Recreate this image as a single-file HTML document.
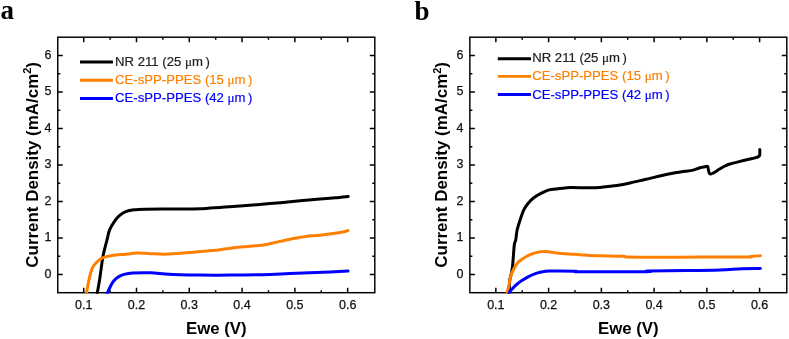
<!DOCTYPE html>
<html><head><meta charset="utf-8"><style>
html,body{margin:0;padding:0;background:#fff;}
svg{display:block;will-change:transform;}
text{font-family:'Liberation Sans', sans-serif;}
</style></head><body>
<svg width="789" height="339" viewBox="0 0 789 339">

<defs><clipPath id="clip0"><rect x="57.05" y="36.5" width="318.45" height="256.9"/></clipPath></defs>
<rect x="57.75" y="37.2" width="317.05" height="255.50" fill="none" stroke="#000" stroke-width="1.45"/>
<path d="M83.70,292.7v-5M83.70,37.2v5M110.10,292.7v-2.5M110.10,37.2v2.5M136.49,292.7v-5M136.49,37.2v5M162.88,292.7v-2.5M162.88,37.2v2.5M189.28,292.7v-5M189.28,37.2v5M215.68,292.7v-2.5M215.68,37.2v2.5M242.07,292.7v-5M242.07,37.2v5M268.46,292.7v-2.5M268.46,37.2v2.5M294.86,292.7v-5M294.86,37.2v5M321.26,292.7v-2.5M321.26,37.2v2.5M347.65,292.7v-5M347.65,37.2v5M57.75,274.60h5M374.8,274.60h-5M57.75,256.34h2.5M374.8,256.34h-2.5M57.75,238.08h5M374.8,238.08h-5M57.75,219.81h2.5M374.8,219.81h-2.5M57.75,201.55h5M374.8,201.55h-5M57.75,183.29h2.5M374.8,183.29h-2.5M57.75,165.03h5M374.8,165.03h-5M57.75,146.76h2.5M374.8,146.76h-2.5M57.75,128.50h5M374.8,128.50h-5M57.75,110.24h2.5M374.8,110.24h-2.5M57.75,91.98h5M374.8,91.98h-5M57.75,73.71h2.5M374.8,73.71h-2.5M57.75,55.45h5M374.8,55.45h-5" stroke="#000" stroke-width="1.5" fill="none"/>
<path d="M96.60,297.00 C96.73,296.17 96.87,295.17 97.40,292.00 C97.93,288.83 98.93,283.67 99.80,278.00 C100.67,272.33 101.77,263.00 102.60,258.00 C103.43,253.00 104.03,251.20 104.80,248.00 C105.57,244.80 106.40,241.88 107.20,238.80 C108.00,235.72 108.38,232.47 109.60,229.50 C110.82,226.53 112.87,223.37 114.50,221.00 C116.13,218.63 117.52,216.93 119.40,215.30 C121.28,213.67 123.37,212.18 125.80,211.20 C128.23,210.22 130.80,209.80 134.00,209.40 C137.20,209.00 139.00,208.92 145.00,208.80 C151.00,208.68 163.33,208.73 170.00,208.70 C176.67,208.67 180.00,208.65 185.00,208.60 C190.00,208.55 195.83,208.55 200.00,208.40 C204.17,208.25 205.83,207.98 210.00,207.70 C214.17,207.42 220.00,207.05 225.00,206.70 C230.00,206.35 232.50,206.18 240.00,205.60 C247.50,205.02 260.00,204.07 270.00,203.20 C280.00,202.33 291.67,201.17 300.00,200.40 C308.33,199.63 314.17,199.10 320.00,198.60 C325.83,198.10 330.30,197.82 335.00,197.40 C339.70,196.98 346.00,196.32 348.20,196.10" fill="none" stroke="#000000" stroke-width="3.0" stroke-linejoin="round" stroke-linecap="round" transform="translate(0,0.4)" clip-path="url(#clip0)"/>
<path d="M85.60,297.00 C85.77,296.17 85.98,295.17 86.60,292.00 C87.22,288.83 88.33,282.08 89.30,278.00 C90.27,273.92 91.22,270.13 92.40,267.50 C93.58,264.87 95.15,263.60 96.40,262.20 C97.65,260.80 98.57,260.00 99.90,259.10 C101.23,258.20 102.77,257.40 104.40,256.80 C106.03,256.20 107.50,255.90 109.70,255.50 C111.90,255.10 115.22,254.65 117.60,254.40 C119.98,254.15 120.77,254.30 124.00,254.00 C127.23,253.70 132.67,252.72 137.00,252.60 C141.33,252.48 145.33,253.10 150.00,253.30 C154.67,253.50 160.00,253.88 165.00,253.80 C170.00,253.72 174.17,253.23 180.00,252.80 C185.83,252.37 193.33,251.78 200.00,251.20 C206.67,250.62 213.33,250.05 220.00,249.30 C226.67,248.55 234.17,247.35 240.00,246.70 C245.83,246.05 250.83,245.78 255.00,245.40 C259.17,245.02 260.83,245.13 265.00,244.40 C269.17,243.67 275.83,241.93 280.00,241.00 C284.17,240.07 287.00,239.40 290.00,238.80 C293.00,238.20 295.33,237.87 298.00,237.40 C300.67,236.93 302.33,236.43 306.00,236.00 C309.67,235.57 315.17,235.32 320.00,234.80 C324.83,234.28 330.83,233.52 335.00,232.90 C339.17,232.28 342.83,231.57 345.00,231.10 C347.17,230.63 347.50,230.27 348.00,230.10" fill="none" stroke="#ff8000" stroke-width="3.0" stroke-linejoin="round" stroke-linecap="round" transform="translate(0,0.4)" clip-path="url(#clip0)"/>
<path d="M105.50,297.00 C105.85,296.17 106.72,293.95 107.60,292.00 C108.48,290.05 109.75,287.25 110.80,285.30 C111.85,283.35 112.63,281.77 113.90,280.30 C115.17,278.83 116.70,277.55 118.40,276.50 C120.10,275.45 121.67,274.65 124.10,274.00 C126.53,273.35 128.57,272.87 133.00,272.60 C137.43,272.33 145.37,272.23 150.70,272.40 C156.03,272.57 160.12,273.27 165.00,273.60 C169.88,273.93 174.17,274.22 180.00,274.40 C185.83,274.58 191.67,274.65 200.00,274.70 C208.33,274.75 218.33,274.80 230.00,274.70 C241.67,274.60 260.00,274.38 270.00,274.10 C280.00,273.82 280.00,273.43 290.00,273.00 C300.00,272.57 320.33,271.88 330.00,271.50 C339.67,271.12 345.00,270.83 348.00,270.70" fill="none" stroke="#0000ff" stroke-width="3.0" stroke-linejoin="round" stroke-linecap="round" transform="translate(0,0.4)" clip-path="url(#clip0)"/>
<text x="83.70" y="308.6" font-size="12.5" text-anchor="middle" fill="#111" stroke="#111" stroke-width="0.25">0.1</text>
<text x="136.49" y="308.6" font-size="12.5" text-anchor="middle" fill="#111" stroke="#111" stroke-width="0.25">0.2</text>
<text x="189.28" y="308.6" font-size="12.5" text-anchor="middle" fill="#111" stroke="#111" stroke-width="0.25">0.3</text>
<text x="242.07" y="308.6" font-size="12.5" text-anchor="middle" fill="#111" stroke="#111" stroke-width="0.25">0.4</text>
<text x="294.86" y="308.6" font-size="12.5" text-anchor="middle" fill="#111" stroke="#111" stroke-width="0.25">0.5</text>
<text x="347.65" y="308.6" font-size="12.5" text-anchor="middle" fill="#111" stroke="#111" stroke-width="0.25">0.6</text>
<text x="51.45" y="277.90" font-size="12.5" text-anchor="end" fill="#111" stroke="#111" stroke-width="0.25">0</text>
<text x="51.45" y="241.38" font-size="12.5" text-anchor="end" fill="#111" stroke="#111" stroke-width="0.25">1</text>
<text x="51.45" y="204.85" font-size="12.5" text-anchor="end" fill="#111" stroke="#111" stroke-width="0.25">2</text>
<text x="51.45" y="168.33" font-size="12.5" text-anchor="end" fill="#111" stroke="#111" stroke-width="0.25">3</text>
<text x="51.45" y="131.80" font-size="12.5" text-anchor="end" fill="#111" stroke="#111" stroke-width="0.25">4</text>
<text x="51.45" y="95.28" font-size="12.5" text-anchor="end" fill="#111" stroke="#111" stroke-width="0.25">5</text>
<text x="51.45" y="58.75" font-size="12.5" text-anchor="end" fill="#111" stroke="#111" stroke-width="0.25">6</text>
<text x="216.28" y="333.5" font-size="17.3" font-weight="bold" text-anchor="middle" textLength="60.7" lengthAdjust="spacingAndGlyphs">Ewe (V)</text>
<text transform="translate(37.8,164.85) rotate(-90)" x="0" y="0" font-size="16.95" font-weight="bold" text-anchor="middle">Current Density (mA/cm<tspan font-size="11" dy="-6.5">2</tspan><tspan dy="6.5">)</tspan></text>
<text x="0.6" y="19.2" font-size="27" font-weight="bold" style="font-family:'Liberation Serif',serif">a</text>
<line x1="80.0" y1="62.00" x2="112.9" y2="62.00" stroke="#000000" stroke-width="2.9" stroke-linecap="butt"/>
<text x="115.10" y="65.75" font-size="13.15" fill="#222" stroke="#222" stroke-width="0.2">NR 211 (25 <tspan style="font-family:'Liberation Serif'">&#956;</tspan>m<tspan dx="2.5">)</tspan></text>
<line x1="80.0" y1="80.20" x2="112.9" y2="80.20" stroke="#ff8000" stroke-width="2.9" stroke-linecap="butt"/>
<text x="115.10" y="83.80" font-size="13.15" fill="#ff8000" stroke="#ff8000" stroke-width="0.2">CE-sPP-PPES (15 <tspan style="font-family:'Liberation Serif'">&#956;</tspan>m<tspan dx="2.5">)</tspan></text>
<line x1="80.0" y1="98.50" x2="112.9" y2="98.50" stroke="#0000ff" stroke-width="2.9" stroke-linecap="butt"/>
<text x="115.10" y="102.15" font-size="13.15" fill="#0000ff" stroke="#0000ff" stroke-width="0.2">CE-sPP-PPES (42 <tspan style="font-family:'Liberation Serif'">&#956;</tspan>m<tspan dx="2.5">)</tspan></text>
<defs><clipPath id="clip1"><rect x="469.15000000000003" y="36.5" width="318.3499999999999" height="256.9"/></clipPath></defs>
<rect x="469.85" y="37.2" width="316.95" height="255.50" fill="none" stroke="#000" stroke-width="1.45"/>
<path d="M495.85,292.7v-5M495.85,37.2v5M522.23,292.7v-2.5M522.23,37.2v2.5M548.60,292.7v-5M548.60,37.2v5M574.98,292.7v-2.5M574.98,37.2v2.5M601.35,292.7v-5M601.35,37.2v5M627.73,292.7v-2.5M627.73,37.2v2.5M654.10,292.7v-5M654.10,37.2v5M680.48,292.7v-2.5M680.48,37.2v2.5M706.85,292.7v-5M706.85,37.2v5M733.23,292.7v-2.5M733.23,37.2v2.5M759.60,292.7v-5M759.60,37.2v5M469.85,274.60h5M786.8,274.60h-5M469.85,256.34h2.5M786.8,256.34h-2.5M469.85,238.08h5M786.8,238.08h-5M469.85,219.81h2.5M786.8,219.81h-2.5M469.85,201.55h5M786.8,201.55h-5M469.85,183.29h2.5M786.8,183.29h-2.5M469.85,165.03h5M786.8,165.03h-5M469.85,146.76h2.5M786.8,146.76h-2.5M469.85,128.50h5M786.8,128.50h-5M469.85,110.24h2.5M786.8,110.24h-2.5M469.85,91.98h5M786.8,91.98h-5M469.85,73.71h2.5M786.8,73.71h-2.5M469.85,55.45h5M786.8,55.45h-5" stroke="#000" stroke-width="1.5" fill="none"/>
<path d="M508.50,297.00 C508.62,296.17 509.00,294.73 509.20,292.00 C509.40,289.27 509.28,283.95 509.70,280.60 C510.12,277.25 511.20,274.60 511.70,271.90 C512.20,269.20 512.27,268.88 512.70,264.40 C513.13,259.92 513.80,249.07 514.30,245.00 C514.80,240.93 515.22,242.55 515.70,240.00 C516.18,237.45 516.40,233.25 517.20,229.70 C518.00,226.15 519.40,222.02 520.50,218.70 C521.60,215.38 522.52,212.38 523.80,209.80 C525.08,207.22 526.53,205.22 528.20,203.20 C529.87,201.18 531.58,199.37 533.80,197.70 C536.02,196.03 538.93,194.50 541.50,193.20 C544.07,191.90 545.70,190.73 549.20,189.90 C552.70,189.07 559.03,188.58 562.50,188.20 C565.97,187.82 565.42,187.67 570.00,187.60 C574.58,187.53 585.00,187.83 590.00,187.80 C595.00,187.77 596.67,187.65 600.00,187.40 C603.33,187.15 606.67,186.70 610.00,186.30 C613.33,185.90 616.67,185.55 620.00,185.00 C623.33,184.45 626.67,183.73 630.00,183.00 C633.33,182.27 636.67,181.37 640.00,180.60 C643.33,179.83 646.67,179.17 650.00,178.40 C653.33,177.63 655.83,176.95 660.00,176.00 C664.17,175.05 670.83,173.50 675.00,172.70 C679.17,171.90 682.17,171.58 685.00,171.20 C687.83,170.82 689.50,170.97 692.00,170.40 C694.50,169.83 697.83,168.40 700.00,167.80 C702.17,167.20 703.73,167.05 705.00,166.80 C706.27,166.55 707.03,165.77 707.60,166.30 C708.17,166.83 708.10,168.83 708.40,170.00 C708.70,171.17 708.97,172.65 709.40,173.30 C709.83,173.95 710.40,173.92 711.00,173.90 C711.60,173.88 712.33,173.52 713.00,173.20 C713.67,172.88 713.83,172.73 715.00,172.00 C716.17,171.27 718.33,169.80 720.00,168.80 C721.67,167.80 723.33,166.80 725.00,166.00 C726.67,165.20 727.50,164.77 730.00,164.00 C732.50,163.23 736.67,162.23 740.00,161.40 C743.33,160.57 747.50,159.58 750.00,159.00 C752.50,158.42 753.58,158.30 755.00,157.90 C756.42,157.50 757.72,157.05 758.50,156.60 C759.28,156.15 759.48,155.80 759.70,155.20 C759.92,154.60 759.78,153.93 759.80,153.00 C759.82,152.07 759.80,150.17 759.80,149.60" fill="none" stroke="#000000" stroke-width="3.0" stroke-linejoin="round" stroke-linecap="round" transform="translate(0,0.0)" clip-path="url(#clip1)"/>
<path d="M506.80,297.00 C506.88,296.25 506.88,294.80 507.30,292.50 C507.72,290.20 508.75,285.85 509.30,283.20 C509.85,280.55 509.93,278.80 510.60,276.60 C511.27,274.40 512.18,272.22 513.30,270.00 C514.42,267.78 515.87,265.08 517.30,263.30 C518.73,261.52 520.25,260.52 521.90,259.30 C523.55,258.08 525.52,256.88 527.20,256.00 C528.88,255.12 530.37,254.60 532.00,254.00 C533.63,253.40 535.03,252.82 537.00,252.40 C538.97,251.98 541.63,251.57 543.80,251.50 C545.97,251.43 548.13,251.80 550.00,252.00 C551.87,252.20 552.50,252.40 555.00,252.70 C557.50,253.00 560.83,253.47 565.00,253.80 C569.17,254.13 575.83,254.43 580.00,254.70 C584.17,254.97 586.67,255.22 590.00,255.40 C593.33,255.58 594.50,255.67 600.00,255.80 C605.50,255.93 618.50,255.98 623.00,256.20 C627.50,256.42 622.50,256.93 627.00,257.10 C631.50,257.27 637.83,257.20 650.00,257.20 C662.17,257.20 683.83,257.13 700.00,257.10 C716.17,257.07 738.33,257.15 747.00,257.00 C755.67,256.85 749.78,256.40 752.00,256.20 C754.22,256.00 758.92,255.87 760.30,255.80" fill="none" stroke="#ff8000" stroke-width="3.0" stroke-linejoin="round" stroke-linecap="round" transform="translate(0,0.0)" clip-path="url(#clip1)"/>
<path d="M508.30,297.00 C508.47,296.25 508.58,293.92 509.30,292.50 C510.02,291.08 511.38,289.83 512.60,288.50 C513.82,287.17 515.05,285.83 516.60,284.50 C518.15,283.17 519.90,281.82 521.90,280.50 C523.90,279.18 526.57,277.67 528.60,276.60 C530.63,275.53 532.20,274.82 534.10,274.10 C536.00,273.38 538.10,272.77 540.00,272.30 C541.90,271.83 543.83,271.50 545.50,271.30 C547.17,271.10 545.08,271.12 550.00,271.10 C554.92,271.08 570.00,271.08 575.00,271.20 C580.00,271.32 568.08,271.72 580.00,271.80 C591.92,271.88 635.17,271.85 646.50,271.70 C657.83,271.55 641.42,271.08 648.00,270.90 C654.58,270.72 674.00,270.75 686.00,270.60 C698.00,270.45 710.67,270.30 720.00,270.00 C729.33,269.70 735.27,269.03 742.00,268.80 C748.73,268.57 757.33,268.63 760.40,268.60" fill="none" stroke="#0000ff" stroke-width="3.0" stroke-linejoin="round" stroke-linecap="round" transform="translate(0,0.0)" clip-path="url(#clip1)"/>
<text x="495.85" y="308.6" font-size="12.5" text-anchor="middle" fill="#111" stroke="#111" stroke-width="0.25">0.1</text>
<text x="548.60" y="308.6" font-size="12.5" text-anchor="middle" fill="#111" stroke="#111" stroke-width="0.25">0.2</text>
<text x="601.35" y="308.6" font-size="12.5" text-anchor="middle" fill="#111" stroke="#111" stroke-width="0.25">0.3</text>
<text x="654.10" y="308.6" font-size="12.5" text-anchor="middle" fill="#111" stroke="#111" stroke-width="0.25">0.4</text>
<text x="706.85" y="308.6" font-size="12.5" text-anchor="middle" fill="#111" stroke="#111" stroke-width="0.25">0.5</text>
<text x="759.60" y="308.6" font-size="12.5" text-anchor="middle" fill="#111" stroke="#111" stroke-width="0.25">0.6</text>
<text x="463.55" y="277.90" font-size="12.5" text-anchor="end" fill="#111" stroke="#111" stroke-width="0.25">0</text>
<text x="463.55" y="241.38" font-size="12.5" text-anchor="end" fill="#111" stroke="#111" stroke-width="0.25">1</text>
<text x="463.55" y="204.85" font-size="12.5" text-anchor="end" fill="#111" stroke="#111" stroke-width="0.25">2</text>
<text x="463.55" y="168.33" font-size="12.5" text-anchor="end" fill="#111" stroke="#111" stroke-width="0.25">3</text>
<text x="463.55" y="131.80" font-size="12.5" text-anchor="end" fill="#111" stroke="#111" stroke-width="0.25">4</text>
<text x="463.55" y="95.28" font-size="12.5" text-anchor="end" fill="#111" stroke="#111" stroke-width="0.25">5</text>
<text x="463.55" y="58.75" font-size="12.5" text-anchor="end" fill="#111" stroke="#111" stroke-width="0.25">6</text>
<text x="628.33" y="333.5" font-size="17.3" font-weight="bold" text-anchor="middle" textLength="60.7" lengthAdjust="spacingAndGlyphs">Ewe (V)</text>
<text transform="translate(447.4,164.85) rotate(-90)" x="0" y="0" font-size="16.95" font-weight="bold" text-anchor="middle">Current Density (mA/cm<tspan font-size="11" dy="-6.5">2</tspan><tspan dy="6.5">)</tspan></text>
<text x="414.5" y="19.5" font-size="27" font-weight="bold" style="font-family:'Liberation Serif',serif">b</text>
<line x1="497.8" y1="58.70" x2="531.0" y2="58.70" stroke="#000000" stroke-width="2.9" stroke-linecap="butt"/>
<text x="532.20" y="62.00" font-size="13.15" fill="#222" stroke="#222" stroke-width="0.2">NR 211 (25 <tspan style="font-family:'Liberation Serif'">&#956;</tspan>m<tspan dx="2.5">)</tspan></text>
<line x1="497.8" y1="76.40" x2="531.0" y2="76.40" stroke="#ff8000" stroke-width="2.9" stroke-linecap="butt"/>
<text x="532.20" y="80.15" font-size="13.15" fill="#ff8000" stroke="#ff8000" stroke-width="0.2">CE-sPP-PPES (15 <tspan style="font-family:'Liberation Serif'">&#956;</tspan>m<tspan dx="2.5">)</tspan></text>
<line x1="497.8" y1="94.45" x2="531.0" y2="94.45" stroke="#0000ff" stroke-width="2.9" stroke-linecap="butt"/>
<text x="532.20" y="98.70" font-size="13.15" fill="#0000ff" stroke="#0000ff" stroke-width="0.2">CE-sPP-PPES (42 <tspan style="font-family:'Liberation Serif'">&#956;</tspan>m<tspan dx="2.5">)</tspan></text>
</svg></body></html>
